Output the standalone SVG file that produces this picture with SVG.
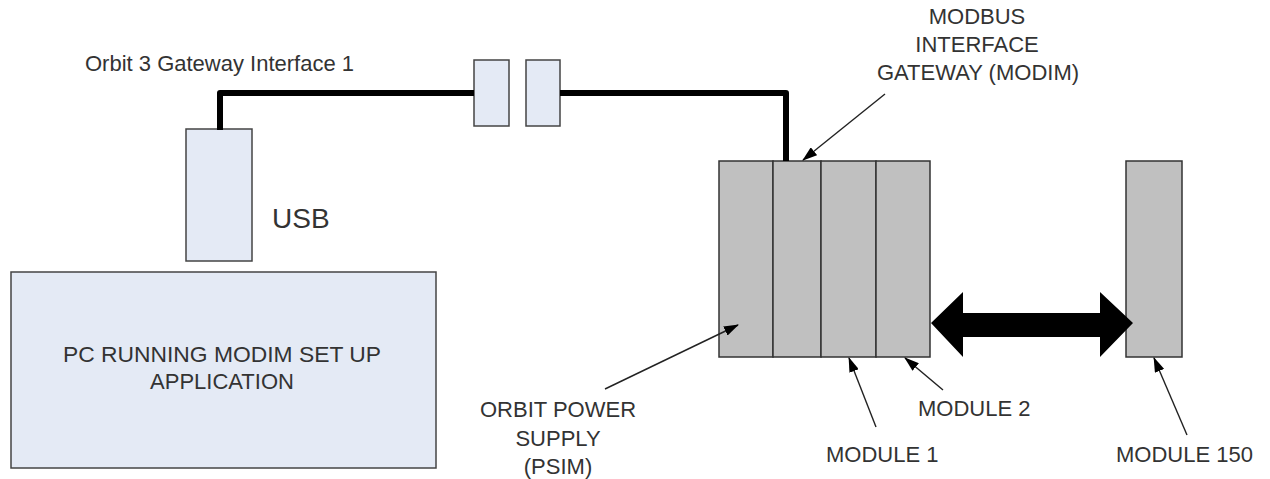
<svg xmlns="http://www.w3.org/2000/svg" width="1270" height="479" viewBox="0 0 1270 479">
<style>
.lbl{font-family:"Liberation Sans",Arial,sans-serif;font-size:22px;fill:#333}
.blue{fill:#e4eaf5;stroke:#444;stroke-width:1.5}
.gray{fill:#c0c0c0;stroke:#333;stroke-width:1.5}
.cable{fill:none;stroke:#000;stroke-width:6;stroke-linejoin:round}
.call{stroke:#222;stroke-width:1.4;fill:none;marker-end:url(#ah)}
</style>
<defs>
<marker id="ah" viewBox="0 0 15 10" refX="14" refY="5" markerWidth="15" markerHeight="10" markerUnits="userSpaceOnUse" orient="auto">
<path d="M0,0 L15,5 L0,10 Z" fill="#000"/>
</marker>
</defs>
<rect width="1270" height="479" fill="#fff"/>
<g id="label-orbit3"><text class="lbl" x="85" y="71">Orbit 3 Gateway Interface 1</text></g>
<g id="connector-a"><rect class="blue" x="474" y="60" width="35" height="66"/></g>
<g id="connector-b"><rect class="blue" x="526" y="60" width="34" height="66"/></g>
<g id="usb"><rect class="blue" x="186" y="129" width="66" height="132"/>
<text class="lbl" x="272" y="228" style="font-size:28px">USB</text></g>
<g id="pc"><rect class="blue" x="11" y="272" width="425" height="196"/>
<text class="lbl" x="222" y="362" text-anchor="middle" textLength="318" lengthAdjust="spacingAndGlyphs">PC RUNNING MODIM SET UP</text>
<text class="lbl" x="222" y="389" text-anchor="middle">APPLICATION</text></g>
<g id="psim"><rect class="gray" x="719" y="161" width="54" height="196"/></g>
<g id="modim"><rect class="gray" x="773" y="161" width="48" height="196"/></g>
<g id="module1"><rect class="gray" x="821" y="161" width="55" height="196"/></g>
<g id="module2"><rect class="gray" x="876" y="161" width="54" height="196"/></g>
<g id="module150"><rect class="gray" x="1126" y="161" width="56" height="196"/></g>
<g id="label-modbus">
<text class="lbl" x="977" y="24" text-anchor="middle">MODBUS</text>
<text class="lbl" x="977" y="52" text-anchor="middle">INTERFACE</text>
<text class="lbl" x="978" y="80" text-anchor="middle">GATEWAY (MODIM)</text>
</g>
<g id="label-psim">
<text class="lbl" x="558" y="417" text-anchor="middle">ORBIT POWER</text>
<text class="lbl" x="558" y="446" text-anchor="middle">SUPPLY</text>
<text class="lbl" x="558" y="474" text-anchor="middle">(PSIM)</text>
</g>
<g id="label-module1"><text class="lbl" x="826" y="462">MODULE 1</text></g>
<g id="label-module2"><text class="lbl" x="918" y="416">MODULE 2</text></g>
<g id="label-module150"><text class="lbl" x="1116" y="462">MODULE 150</text></g>
<g id="connectors">
<polyline class="cable" points="220,130 220,93 474,93"/>
<polyline class="cable" points="560,93 786,93 786,161"/>
<polygon id="double-arrow" points="931,323 963,292 963,313 1100,313 1100,292 1133,323 1100,357 1100,337 963,337 963,357" fill="#000"/>
<line class="call" x1="885" y1="94" x2="803" y2="160"/>
<line class="call" x1="605" y1="389" x2="738" y2="325"/>
<line class="call" x1="876" y1="427" x2="849" y2="358"/>
<line class="call" x1="943" y1="390" x2="905" y2="358"/>
<line class="call" x1="1187" y1="435" x2="1154" y2="358"/>
</g>
</svg>
